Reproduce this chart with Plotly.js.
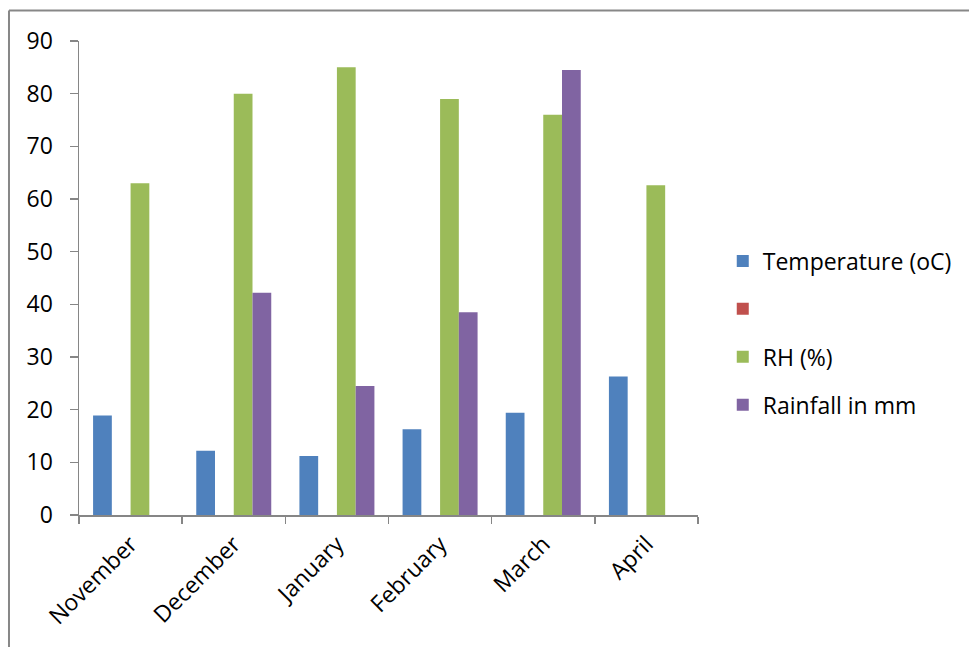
<!DOCTYPE html>
<html>
<head>
<meta charset="utf-8">
<script src="https://cdn.plot.ly/plotly-3.0.1.min.js"></script>
<style>
  html, body { margin: 0; padding: 0; background: #ffffff; }
  #chart { width: 969px; height: 647px; }
</style>
</head>
<body>
<div id="chart"></div>
<script>
// Monthly climate readings, November to April
const months = ["November", "December", "January", "February", "March", "April"];
const temperature = [18.9, 12.2, 11.2, 16.3, 19.4, 26.3];
const blankSeries = [null, null, null, null, null, null];
const humidity = [63, 80, 85, 79, 76, 62.6];
const rainfall = [null, 42.2, 24.5, 38.5, 84.5, null];
const yTicks = [0, 10, 20, 30, 40, 50, 60, 70, 80, 90];

const FONT = "'Open Sans', sans-serif";

function series(name, values, color, group) {
  return {
    type: "bar",
    name: name,
    x: months,
    y: values,
    legendgroup: group,
    marker: { color: color, line: { width: 0 } },
    hoverinfo: "skip"
  };
}

const traces = [
  series("Temperature (oC)", temperature, "#4F81BD", "g1"),
  series(" ", blankSeries, "#C0504D", "g2"),
  series("RH (%)", humidity, "#9BBB59", "g3"),
  series("Rainfall in mm", rainfall, "#8064A2", "g4")
];

const axisGray = "#868686";

const layout = {
  width: 969,
  height: 647,
  paper_bgcolor: "#ffffff",
  plot_bgcolor: "#ffffff",
  margin: { l: 79, r: 271, t: 41, b: 132 },
  barmode: "group",
  bargap: 0.273,
  bargroupgap: 0,
  font: { family: FONT, size: 23, color: "#000000" },
  showlegend: true,
  legend: {
    x: 1.04, y: 0.384, xanchor: "left", yanchor: "middle",
    traceorder: "grouped",
    tracegroupgap: 15,
    font: { family: FONT, size: 23, color: "#000000" },
    bgcolor: "rgba(0,0,0,0)"
  },
  xaxis: {
    type: "category",
    tickangle: -45,
    tickson: "boundaries",
    ticks: "outside",
    ticklen: 7,
    tickcolor: axisGray,
    tickwidth: 1.5,
    showline: true,
    linecolor: axisGray,
    linewidth: 1.5,
    showgrid: false,
    zeroline: false,
    ticklabelstandoff: 5,
    tickfont: { family: FONT, size: 23, color: "#000000" }
  },
  yaxis: {
    range: [0, 90],
    tickvals: yTicks,
    ticktext: yTicks.map(String),
    ticks: "outside",
    ticklen: 8,
    tickcolor: axisGray,
    tickwidth: 1.5,
    showline: true,
    linecolor: axisGray,
    linewidth: 1.5,
    showgrid: false,
    zeroline: false,
    ticklabelstandoff: 12,
    tickfont: { family: FONT, size: 23, color: "#000000" }
  },
  shapes: [
    // chart-area frame (left and top edges; right and bottom run off the page)
    { type: "line", xref: "paper", yref: "paper", x0: -0.1131, x1: -0.1131, y0: 1.0643, y1: -0.4,
      line: { color: "#878787", width: 2 } },
    { type: "line", xref: "paper", yref: "paper", x0: -0.1131, x1: 1.6, y0: 1.0643, y1: 1.0643,
      line: { color: "#878787", width: 2 } }
  ]
};

Plotly.newPlot("chart", traces, layout, { displayModeBar: false, staticPlot: true });
</script>
</body>
</html>
